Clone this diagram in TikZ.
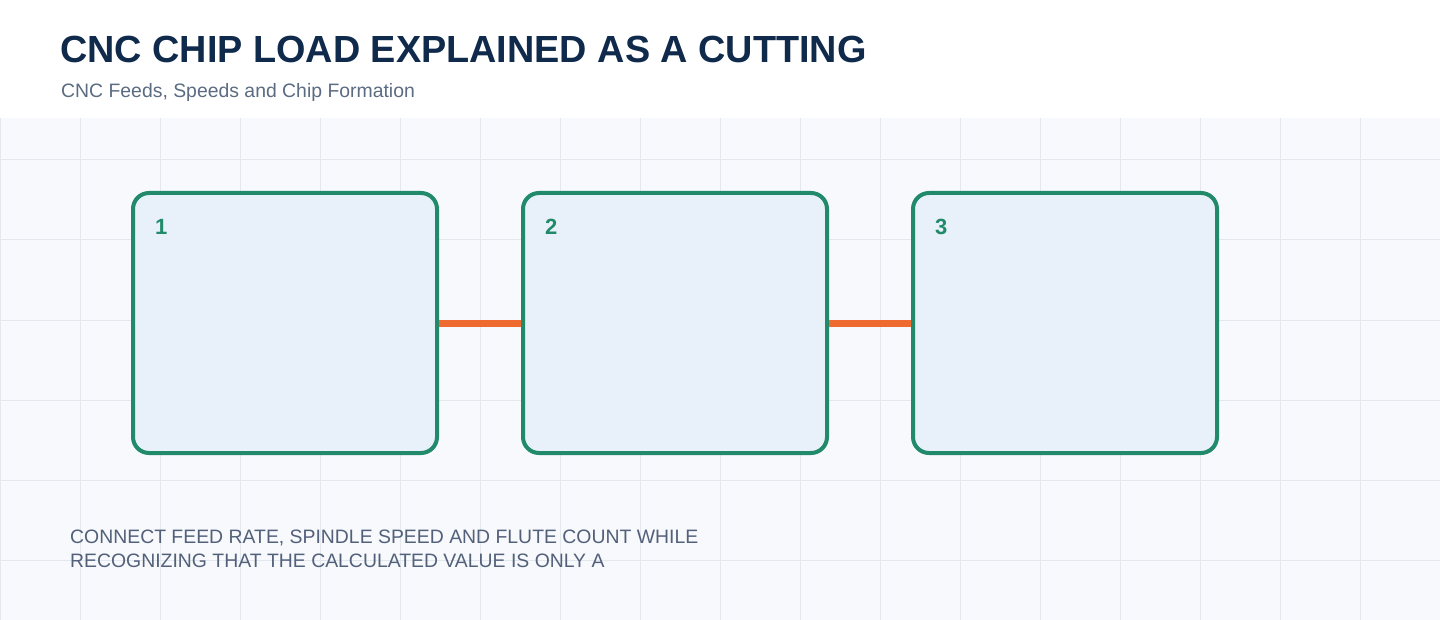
\documentclass[tikz,border=0pt]{standalone}
\usepackage{fontspec}
\setmainfont{Liberation Sans}
\usetikzlibrary{positioning}

\definecolor{titlenavy}{HTML}{102A4C}
\definecolor{subgray}{HTML}{5B6B82}
\definecolor{notegray}{HTML}{52607A}
\definecolor{panelbg}{HTML}{F7F9FC}
\definecolor{gridgray}{HTML}{E3E7EE}
\definecolor{stagegreen}{HTML}{218A6A}
\definecolor{stagefill}{HTML}{E8F0FA}
\definecolor{linkorange}{HTML}{EE6A2E}

\begin{document}
\begin{tikzpicture}[
  x=1pt, y=-1pt,
  stage/.style={draw=stagegreen, fill=stagefill, line width=4pt,
    rounded corners=16pt, minimum width=304pt, minimum height=260pt,
    inner sep=0pt, outer sep=2pt},
  stagenum/.style={anchor=north west, inner sep=0pt, text=stagegreen,
    font=\bfseries\fontsize{22}{22}\selectfont},
  link/.style={draw=linkorange, line width=7pt},
  gridline/.style={draw=gridgray, line width=1pt},
  note/.style={anchor=base west, inner sep=0pt, text=notegray,
    font=\fontsize{19.4}{24}\selectfont},
  node distance=82pt,
]
\useasboundingbox (0,0) rectangle (1440,620);
\fill[white] (0,0) rectangle (1440,118);
\fill[panelbg] (0,118) rectangle (1440,620);
\foreach \x in {0,80,...,1440}
  \draw[gridline] (\x,118) -- (\x,620);
\foreach \y in {160,240,...,560}
  \draw[gridline] (0,\y) -- (1440,\y);

\node[anchor=base west, inner sep=0pt, text=titlenavy,
  font=\bfseries\fontsize{37.8}{40}\selectfont] (title) at (60,63)
  {CNC CHIP LOAD EXPLAINED AS A CUTTING};
\node[anchor=base west, inner sep=0pt, text=subgray,
  font=\fontsize{19.4}{22}\selectfont] (subtitle) at (61,98)
  {CNC Feeds, Speeds and Chip Formation};

% three stages, linked left to right
\node[stage] (stage1) at (285,323) {};
\node[stage, right=of stage1] (stage2) {};
\node[stage, right=of stage2] (stage3) {};
\draw[link] (stage1.east) -- (stage2.west);
\draw[link] (stage2.east) -- (stage3.west);

\foreach \i in {1,2,3}
  \node[stagenum] (num\i) at ([xshift=24pt,yshift=-28pt]stage\i.north west) {\i};

\node[note] (note1) at (70,543)
  {CONNECT FEED RATE, SPINDLE SPEED AND FLUTE COUNT WHILE};
\node[note] (note2) at (70,567)
  {RECOGNIZING THAT THE CALCULATED VALUE IS ONLY A};
\end{tikzpicture}
\end{document}
